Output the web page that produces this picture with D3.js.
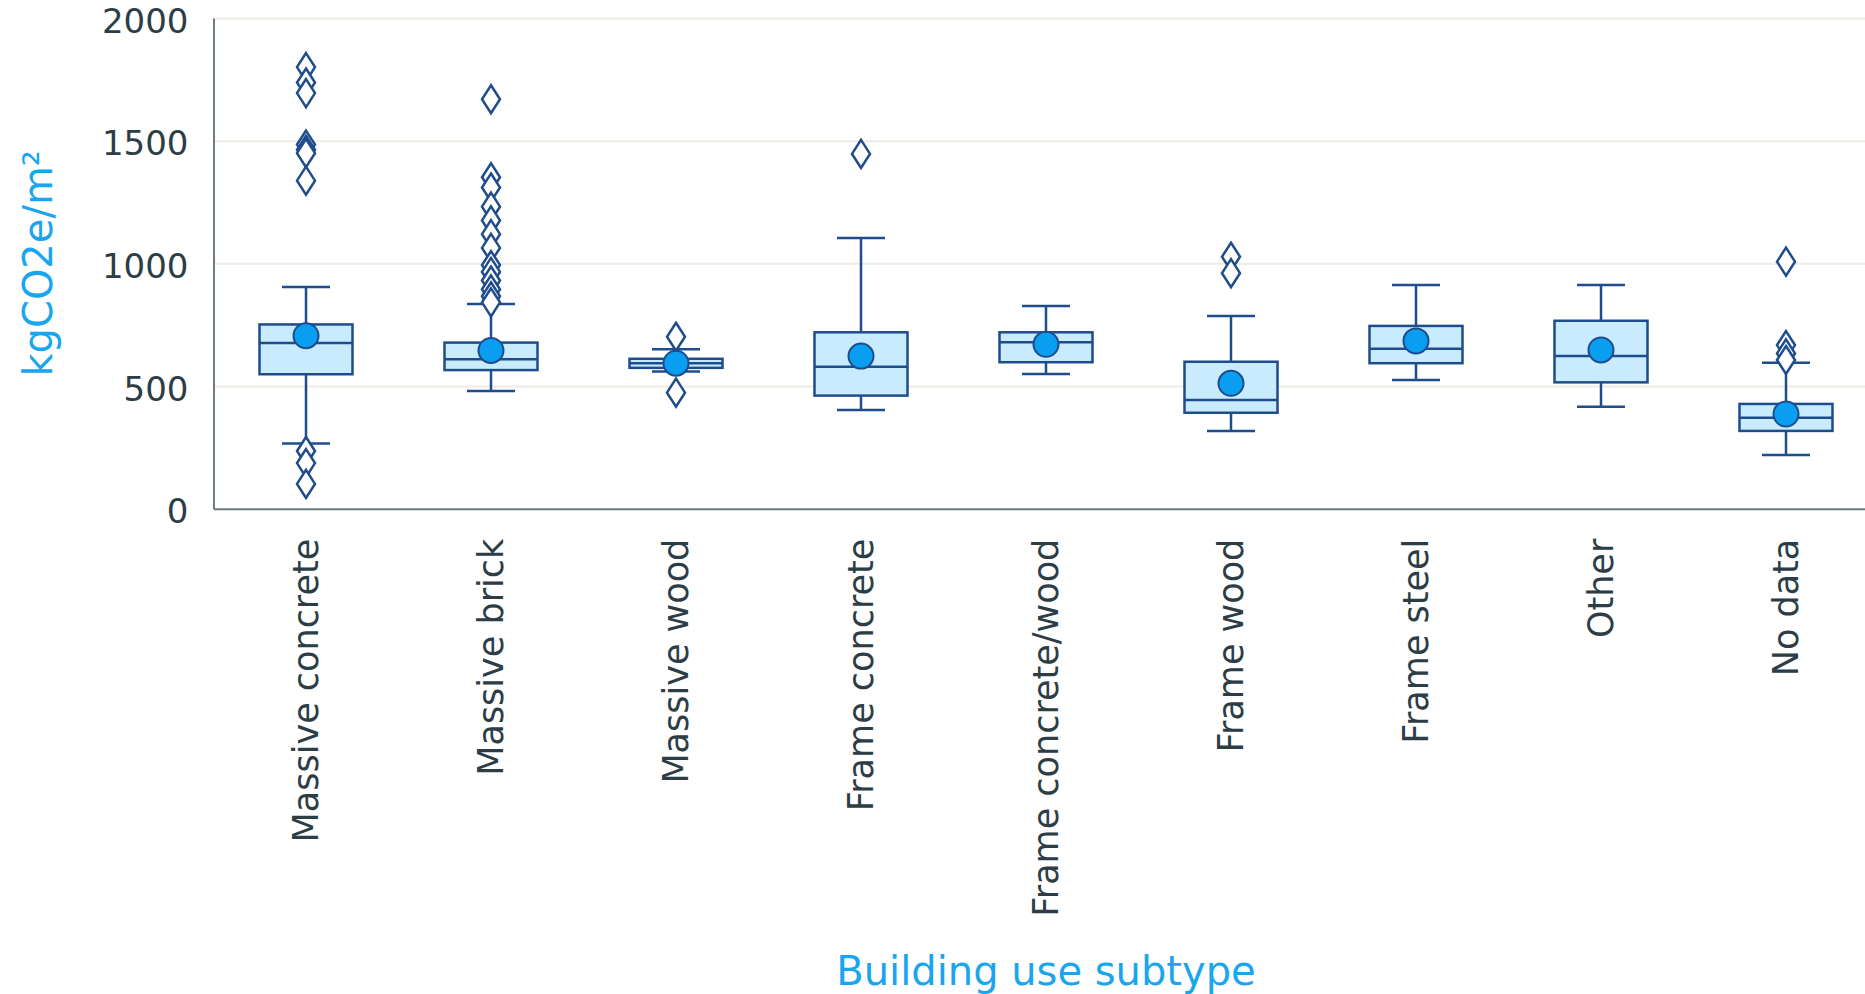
<!DOCTYPE html>
<html>
<head>
<meta charset="utf-8">
<script src="https://cdn.jsdelivr.net/npm/d3@7"></script>
<style>
  html, body { margin: 0; padding: 0; background: #fff; }
  svg { display: block; font-family: "DejaVu Sans", Verdana, sans-serif; }
</style>
</head>
<body>
<div id="chart"></div>
<script>
// Box plot values (kgCO2e/m²)
const categories = [
  "Massive concrete", "Massive brick", "Massive wood", "Frame concrete",
  "Frame concrete/wood", "Frame wood", "Frame steel", "Other", "No data"
];
const whiskerLow  = [266, 480, 559, 402, 549, 317, 525, 416, 219];
const q1          = [548, 565, 574, 461, 597, 391, 593, 515, 317];
const medians     = [675, 609, 593, 579, 678, 443, 652, 622, 371];
const q3          = [751, 677, 611, 719, 719, 599, 745, 766, 427];
const whiskerHigh = [904, 834, 650, 1103, 826, 785, 912, 912, 595];
const means       = [705, 645, 593, 622, 670, 511, 684, 647, 386];
const outliers = [
  [1800, 1737, 1694, 1484, 1463, 1449, 1337, 235, 186, 101],
  [1669, 1351, 1309, 1231, 1175, 1119, 1063, 993, 965, 930, 894, 866, 841],
  [701, 473],
  [1446],
  [],
  [1027, 960],
  [],
  [],
  [1007, 667, 633, 606]
];
const yTicks = [0, 500, 1000, 1500, 2000];

const width = 1865, height = 994;
const plot = { left: 213.5, right: 1878.5, top: 18, bottom: 508.7 };

const stroke = "#1f4c8c";
const boxFill = "#c8ecfd";
const meanFill = "#0a9ef0";
const textColor = "#2c3d46";
const titleColor = "#1aa6ee";

const svg = d3.select("#chart").append("svg")
  .attr("width", width)
  .attr("height", height);

const x = d3.scaleBand()
  .domain(categories)
  .range([plot.left, plot.right])
  .padding(0);

const y = d3.scaleLinear()
  .domain([0, 2000])
  .range([plot.bottom, plot.top]);

// gridlines
svg.append("g")
  .attr("transform", `translate(${plot.left},0)`)
  .call(d3.axisLeft(y).tickValues(yTicks).tickSize(-(plot.right - plot.left)).tickFormat(""))
  .call(g => g.select(".domain").remove())
  .call(g => g.selectAll("line").attr("stroke", "#edece4").attr("stroke-width", 2));

// y axis
svg.append("g")
  .attr("transform", `translate(${plot.left},0)`)
  .call(d3.axisLeft(y).tickValues(yTicks).tickSize(0).tickPadding(25).tickFormat(d3.format("d")))
  .call(g => g.select(".domain").attr("stroke", "#6d7d83").attr("stroke-width", 2))
  .call(g => g.selectAll("text")
    .attr("fill", textColor)
    .attr("dy", "0.42em")
    .style("font-size", "34px")
    .style("font-family", "DejaVu Sans, sans-serif"));

// x axis
svg.append("g")
  .attr("transform", `translate(0,${plot.bottom})`)
  .call(d3.axisBottom(x).tickSize(0).tickSizeOuter(0))
  .call(g => g.select(".domain").attr("stroke", "#6d7d83").attr("stroke-width", 2))
  .call(g => g.selectAll("text")
    .attr("fill", textColor)
    .style("font-size", "35px")
    .style("font-family", "DejaVu Sans, sans-serif")
    .attr("text-anchor", "end")
    .attr("dy", "0.35em")
    .attr("y", 0)
    .attr("transform", "translate(0,30) rotate(-90)"));

// axis titles
svg.append("text")
  .attr("transform", `translate(52,${(plot.top + plot.bottom) / 2}) rotate(-90)`)
  .attr("text-anchor", "middle")
  .attr("fill", titleColor)
  .style("font-size", "40px")
  .text("kgCO2e/m²");

svg.append("text")
  .attr("x", (plot.left + plot.right) / 2)
  .attr("y", 985)
  .attr("text-anchor", "middle")
  .attr("fill", titleColor)
  .style("font-size", "40px")
  .text("Building use subtype");

// boxes
const boxW = 93, capW = 48;
const groups = svg.append("g").selectAll("g")
  .data(categories)
  .join("g")
  .attr("transform", d => `translate(${x(d) + x.bandwidth() / 2},0)`);

groups.append("line")
  .attr("y1", (d, i) => y(whiskerHigh[i]))
  .attr("y2", (d, i) => y(q3[i]))
  .attr("stroke", stroke).attr("stroke-width", 2.5);
groups.append("line")
  .attr("y1", (d, i) => y(q1[i]))
  .attr("y2", (d, i) => y(whiskerLow[i]))
  .attr("stroke", stroke).attr("stroke-width", 2.5);
groups.append("line")
  .attr("x1", -capW / 2).attr("x2", capW / 2)
  .attr("y1", (d, i) => y(whiskerHigh[i])).attr("y2", (d, i) => y(whiskerHigh[i]))
  .attr("stroke", stroke).attr("stroke-width", 2.5);
groups.append("line")
  .attr("x1", -capW / 2).attr("x2", capW / 2)
  .attr("y1", (d, i) => y(whiskerLow[i])).attr("y2", (d, i) => y(whiskerLow[i]))
  .attr("stroke", stroke).attr("stroke-width", 2.5);

groups.append("rect")
  .attr("x", -boxW / 2)
  .attr("width", boxW)
  .attr("y", (d, i) => y(q3[i]))
  .attr("height", (d, i) => y(q1[i]) - y(q3[i]))
  .attr("fill", boxFill)
  .attr("stroke", stroke).attr("stroke-width", 2.5);

groups.append("line")
  .attr("x1", -boxW / 2).attr("x2", boxW / 2)
  .attr("y1", (d, i) => y(medians[i])).attr("y2", (d, i) => y(medians[i]))
  .attr("stroke", stroke).attr("stroke-width", 2.5);

// outliers (diamonds)
const dw = 9, dh = 14;
groups.selectAll("path.outlier")
  .data((d, i) => outliers[i])
  .join("path")
  .attr("class", "outlier")
  .attr("d", v => `M0,${y(v) - dh}L${dw},${y(v)}L0,${y(v) + dh}L${-dw},${y(v)}Z`)
  .attr("fill", "#fff")
  .attr("stroke", stroke)
  .attr("stroke-width", 2.5);

// means
groups.append("circle")
  .attr("cy", (d, i) => y(means[i]))
  .attr("r", 12.5)
  .attr("fill", meanFill)
  .attr("stroke", stroke)
  .attr("stroke-width", 2);
</script>
</body>
</html>
